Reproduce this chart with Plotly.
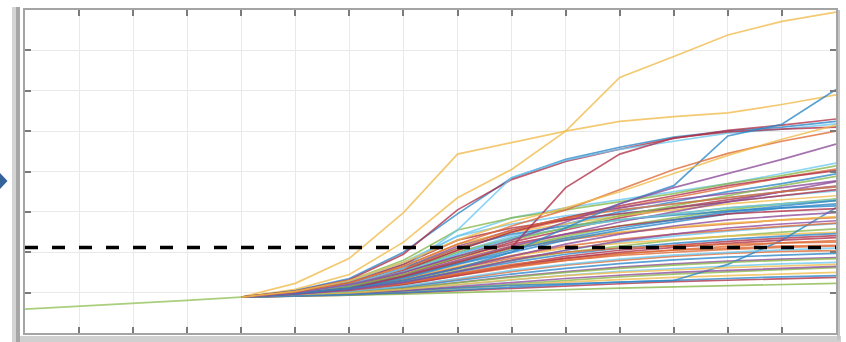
import plotly.graph_objects as go

# ---------------- data ----------------
hist_x = [0, 1, 2, 3, 4]
hist_y = [0.59, 0.66, 0.74, 0.81, 0.89]

proj_x = [4, 5, 6, 7, 8, 9, 10, 11, 12, 13, 14, 15]

threshold = 2.12

# prominent upper paths
top_paths = [
    [0.89, 1.23, 1.85, 2.98, 4.43, 4.72, 5.00, 5.24, 5.36, 5.45, 5.66, 5.90],
    [0.89, 1.08, 1.45, 2.25, 3.35, 4.05, 5.00, 6.33, 6.85, 7.38, 7.72, 7.95],
    [0.89, 1.05, 1.35, 2.00, 2.95, 3.84, 4.30, 4.60, 4.85, 5.00, 5.10, 5.24],
    [0.89, 1.04, 1.32, 1.95, 3.05, 3.80, 4.25, 4.55, 4.82, 5.02, 5.15, 5.30],
    [0.89, 1.00, 1.20, 1.60, 2.55, 3.85, 4.28, 4.55, 4.75, 4.95, 5.05, 5.18],
    [0.89, 0.98, 1.10, 1.40, 1.75, 2.12, 3.60, 4.43, 4.83, 4.98, 5.05, 5.10],
    [0.89, 0.98, 1.10, 1.30, 1.60, 2.00, 2.60, 3.20, 3.65, 4.88, 5.17, 6.03],
    [0.89, 1.00, 1.20, 1.50, 1.90, 2.30, 2.75, 3.20, 3.60, 3.95, 4.30, 4.68],
    [0.89, 1.02, 1.25, 1.65, 2.20, 2.65, 3.05, 3.55, 4.05, 4.45, 4.75, 5.00],
    [0.89, 1.03, 1.30, 1.75, 2.30, 2.75, 3.10, 3.50, 3.95, 4.40, 4.80, 5.15],
]
top_colors = [2, 2, 0, 6, 5, 6, 0, 3, 1, 2]

middle_paths = [
    [0.89, 1.02, 1.25, 1.70, 2.40, 2.85, 3.10, 3.30, 3.50, 3.70, 3.95, 4.21],
    [0.89, 1.03, 1.30, 1.80, 2.55, 2.85, 3.05, 3.25, 3.45, 3.70, 3.90, 4.14],
    [0.89, 1.00, 1.20, 1.55, 2.05, 2.50, 2.80, 3.10, 3.35, 3.60, 3.85, 4.06],
    [0.89, 1.00, 1.18, 1.50, 1.95, 2.35, 2.70, 3.00, 3.25, 3.50, 3.70, 3.94],
    [0.89, 1.01, 1.22, 1.60, 2.15, 2.55, 2.85, 3.10, 3.30, 3.45, 3.60, 3.77],
    [0.89, 0.99, 1.15, 1.45, 1.85, 2.25, 2.55, 2.85, 3.10, 3.30, 3.50, 3.64],
    [0.89, 1.00, 1.20, 1.55, 2.00, 2.40, 2.70, 2.95, 3.10, 3.25, 3.40, 3.52],
    [0.89, 1.02, 1.25, 1.65, 2.20, 2.50, 2.70, 2.90, 3.05, 3.20, 3.30, 3.40],
    [0.89, 0.98, 1.12, 1.38, 1.75, 2.10, 2.40, 2.65, 2.85, 3.05, 3.20, 3.32],
    [0.89, 0.97, 1.10, 1.35, 1.70, 2.00, 2.30, 2.55, 2.75, 2.95, 3.10, 3.20],
    [0.89, 1.00, 1.18, 1.50, 1.90, 2.20, 2.45, 2.65, 2.80, 2.95, 3.02, 3.08],
    [0.89, 0.97, 1.08, 1.30, 1.60, 1.90, 2.20, 2.45, 2.65, 2.80, 2.90, 2.98],
    [0.89, 1.01, 1.22, 1.60, 2.10, 2.45, 2.65, 2.80, 2.92, 3.02, 3.10, 3.15],
    [0.89, 1.02, 1.26, 1.70, 2.30, 2.60, 2.80, 2.95, 3.10, 3.25, 3.40, 3.55],
    [0.89, 1.03, 1.28, 1.75, 2.40, 2.70, 2.90, 3.05, 3.20, 3.35, 3.50, 3.62],
    [0.89, 1.00, 1.20, 1.52, 2.00, 2.35, 2.60, 2.80, 2.95, 3.10, 3.20, 3.28],
    [0.89, 0.98, 1.14, 1.42, 1.80, 2.15, 2.45, 2.75, 3.00, 3.25, 3.50, 3.75],
    [0.89, 1.00, 1.20, 1.55, 2.05, 2.50, 2.85, 3.15, 3.40, 3.65, 3.85, 4.02],
    [0.89, 1.00, 1.19, 1.52, 1.95, 2.35, 2.60, 2.80, 2.95, 3.10, 3.20, 3.30],
    [0.89, 0.99, 1.15, 1.45, 1.88, 2.30, 2.60, 2.90, 3.15, 3.40, 3.65, 3.88],
    [0.89, 1.01, 1.22, 1.58, 2.10, 2.55, 2.85, 3.05, 3.20, 3.35, 3.50, 3.62],
    [0.89, 0.98, 1.12, 1.38, 1.72, 2.05, 2.35, 2.60, 2.80, 3.00, 3.15, 3.28],
]
middle_colors = [5, 4, 1, 0, 3, 6, 5, 2, 4, 0, 6, 3, 0, 6, 5, 4, 3, 6, 5, 4, 1, 0]

lower_paths = [
    [0.89, 0.99, 1.15, 1.42, 1.78, 2.10, 2.30, 2.48, 2.60, 2.70, 2.80, 2.86],
    [0.89, 0.96, 1.06, 1.25, 1.50, 1.80, 2.05, 2.25, 2.40, 2.52, 2.62, 2.71],
    [0.89, 0.97, 1.08, 1.28, 1.55, 1.80, 2.00, 2.15, 2.30, 2.40, 2.50, 2.58],
    [0.89, 0.98, 1.12, 1.35, 1.65, 1.90, 2.10, 2.22, 2.32, 2.40, 2.45, 2.49],
    [0.89, 0.96, 1.05, 1.22, 1.45, 1.68, 1.90, 2.05, 2.17, 2.27, 2.35, 2.41],
    [0.89, 0.95, 1.04, 1.20, 1.42, 1.62, 1.80, 1.95, 2.06, 2.15, 2.23, 2.29],
    [0.89, 0.96, 1.06, 1.24, 1.48, 1.70, 1.85, 1.97, 2.05, 2.10, 2.15, 2.17],
    [0.89, 0.94, 1.02, 1.15, 1.33, 1.52, 1.68, 1.80, 1.90, 1.97, 2.02, 2.04],
    [0.89, 0.94, 1.01, 1.13, 1.30, 1.46, 1.60, 1.72, 1.81, 1.88, 1.93, 1.97],
    [0.89, 0.93, 0.99, 1.10, 1.25, 1.40, 1.52, 1.63, 1.71, 1.78, 1.83, 1.87],
    [0.89, 0.93, 0.98, 1.07, 1.19, 1.32, 1.43, 1.53, 1.60, 1.66, 1.71, 1.75],
    [0.89, 0.92, 0.96, 1.03, 1.12, 1.22, 1.31, 1.39, 1.46, 1.52, 1.57, 1.62],
    [0.89, 0.92, 0.96, 1.02, 1.10, 1.18, 1.26, 1.32, 1.38, 1.42, 1.46, 1.50],
    [0.89, 0.91, 0.94, 0.99, 1.05, 1.11, 1.17, 1.22, 1.27, 1.31, 1.35, 1.38],
    [0.89, 0.91, 0.93, 0.96, 1.00, 1.04, 1.08, 1.11, 1.14, 1.17, 1.20, 1.23],
    [0.89, 0.93, 0.98, 1.05, 1.12, 1.18, 1.22, 1.26, 1.30, 1.70, 2.30, 3.10],
    [0.89, 0.99, 1.16, 1.45, 1.85, 2.15, 2.35, 2.50, 2.62, 2.72, 2.80, 2.88],
    [0.89, 0.97, 1.10, 1.32, 1.62, 1.92, 2.15, 2.32, 2.45, 2.55, 2.64, 2.72],
    [0.89, 0.96, 1.07, 1.26, 1.52, 1.75, 1.95, 2.10, 2.22, 2.32, 2.40, 2.46],
    [0.89, 0.95, 1.04, 1.20, 1.42, 1.65, 1.85, 2.00, 2.12, 2.22, 2.30, 2.36],
    [0.89, 0.95, 1.05, 1.22, 1.45, 1.65, 1.80, 1.92, 2.00, 2.07, 2.12, 2.15],
    [0.89, 0.94, 1.02, 1.16, 1.35, 1.55, 1.70, 1.83, 1.93, 2.00, 2.06, 2.10],
    [0.89, 0.93, 1.00, 1.10, 1.24, 1.38, 1.50, 1.60, 1.68, 1.75, 1.80, 1.84],
    [0.89, 0.92, 0.97, 1.05, 1.15, 1.25, 1.35, 1.43, 1.50, 1.55, 1.60, 1.65],
    [0.89, 0.93, 0.99, 1.08, 1.20, 1.32, 1.42, 1.50, 1.56, 1.62, 1.66, 1.70],
    [0.89, 0.92, 0.95, 1.00, 1.07, 1.14, 1.20, 1.26, 1.31, 1.35, 1.39, 1.42],
    [0.89, 0.96, 1.08, 1.30, 1.60, 1.85, 2.00, 2.10, 2.16, 2.20, 2.23, 2.25],
    [0.89, 0.96, 1.06, 1.25, 1.52, 1.80, 2.05, 2.28, 2.45, 2.60, 2.70, 2.78],
]
lower_colors = [1, 5, 4, 2, 6, 1, 1, 1, 0, 3, 5, 4, 2, 6, 4, 0, 2, 1, 0, 6, 1, 5, 4, 3, 2, 0, 1, 3]

# ---------------- style ----------------
palette = ["#2b86c8", "#de6a35", "#f0bb4a", "#8c4b9b", "#88b84a", "#6cc8f0", "#b03048"]

fig = go.Figure()

fig.add_trace(go.Scatter(x=hist_x, y=hist_y, mode="lines",
                         line=dict(color="#a9cf7c", width=1.8),
                         hoverinfo="skip", showlegend=False))

for group, cols in [(lower_paths, lower_colors), (middle_paths, middle_colors), (top_paths, top_colors)]:
    for ys, c in zip(group, cols):
        fig.add_trace(go.Scatter(x=proj_x, y=ys, mode="lines",
                                 line=dict(color=palette[c], width=1.7),
                                 opacity=0.78, hoverinfo="skip", showlegend=False))

fig.add_trace(go.Scatter(x=[0, 15], y=[threshold, threshold], mode="lines",
                         line=dict(color="black", width=3.5, dash="13px,14px"),
                         hoverinfo="skip", showlegend=False))

W, H = 846, 342
L, R, T, B = 25, 9, 8, 9
pw = W - L - R
ph = H - T - B

def px(x):
    return (x - L) / pw

def py(y):
    return (H - B - y) / ph

shapes = [
    dict(type="rect", xref="paper", yref="paper", x0=px(12), x1=px(16), y0=py(342), y1=py(5),
         fillcolor="#d4d4d4", line=dict(width=0), layer="below"),
    dict(type="rect", xref="paper", yref="paper", x0=px(16), x1=px(20), y0=py(342), y1=py(5),
         fillcolor="#a6a6a6", line=dict(width=0), layer="below"),
    dict(type="rect", xref="paper", yref="paper", x0=px(20), x1=px(842), y0=py(342), y1=py(336),
         fillcolor="#d0d0d0", line=dict(width=0), layer="below"),
    dict(type="rect", xref="paper", yref="paper", x0=px(838), x1=px(841), y0=py(340), y1=py(8),
         fillcolor="#c4c4c4", line=dict(width=0), layer="below"),
    dict(type="path", xref="paper", yref="paper",
         path=f"M {px(0)},{py(172)} L {px(7.5)},{py(180)} L {px(0)},{py(188)} Z",
         fillcolor="#34639a", line=dict(width=0)),
]

axis_common = dict(showticklabels=False, ticks="inside", ticklen=6, tickwidth=1.5,
                   tickcolor="#7a7a7a", mirror="allticks", showline=True,
                   linecolor="#a4a4a4", linewidth=1.5, showgrid=True,
                   gridcolor="#e9e9e9", gridwidth=1, zeroline=False, fixedrange=True)

fig.update_layout(
    width=W, height=H,
    margin=dict(l=L, r=R, t=T, b=B, pad=0),
    paper_bgcolor="white", plot_bgcolor="white",
    xaxis=dict(range=[0, 15], dtick=1, tick0=0, **axis_common),
    yaxis=dict(range=[0, 8], dtick=1, tick0=0, **axis_common),
    shapes=shapes,
    showlegend=False,
)

fig.write_html("out.html")
